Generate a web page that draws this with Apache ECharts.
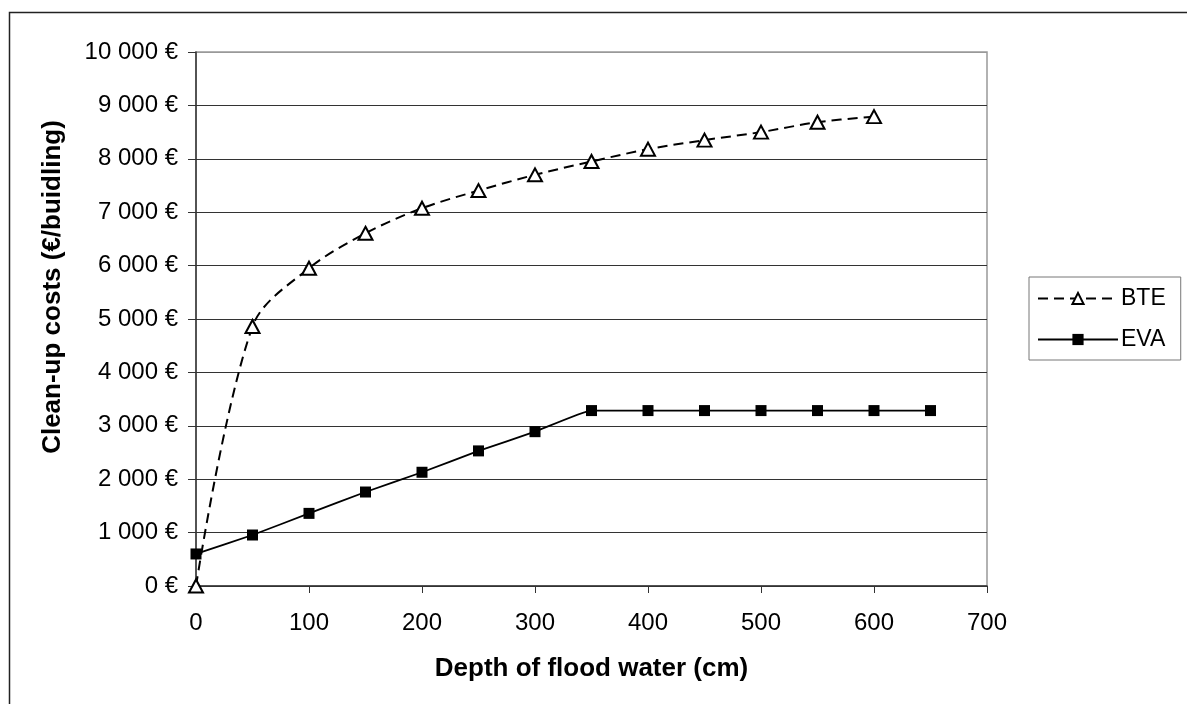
<!DOCTYPE html>
<html>
<head>
<meta charset="utf-8">
<script src="https://cdn.jsdelivr.net/npm/echarts@6/dist/echarts.min.js"></script>
<style>
html,body{margin:0;padding:0;background:#fff;}
#chart{width:1187px;height:704px;}
</style>
</head>
<body>
<div id="chart"></div>
<script>
const depthBTE = [0, 50, 100, 150, 200, 250, 300, 350, 400, 450, 500, 550, 600];
const costBTE  = [0, 4860, 5950, 6605, 7075, 7405, 7700, 7950, 8180, 8350, 8500, 8685, 8790];
const depthEVA = [0, 50, 100, 150, 200, 250, 300, 350, 400, 450, 500, 550, 600, 650];
const costEVA  = [600, 955, 1360, 1760, 2130, 2530, 2890, 3285, 3285, 3285, 3285, 3285, 3285, 3285];
const seriesNames = ['BTE', 'EVA'];
const xTitle = 'Depth of flood water (cm)';
const yTitle = 'Clean-up costs (€/buidling)';

function pairs(xs, ys) { return xs.map((x, i) => [x, ys[i]]); }
function euro(v) {
  const s = String(Math.round(v)).replace(/\B(?=(\d{3})+(?!\d))/g, ' ');
  return s + ' €';
}

const font = '"Liberation Sans", Arial, sans-serif';
const gridColors = ['#333','#333','#333','#333','#333','#333','#333','#333','#333','#333','#999'];

const chart = echarts.init(document.getElementById('chart'), null, {renderer: 'canvas'});
chart.setOption({
  animation: false,
  backgroundColor: '#fff',
  textStyle: {fontFamily: font, color: '#000'},
  grid: {left: 196, right: 200, top: 52, bottom: 118, show: true, borderColor: '#999', borderWidth: 1.5, backgroundColor: 'transparent'},
  graphic: [{
    type: 'polyline',
    shape: {points: [[9.5, 704], [9.5, 12.5], [1187, 12.5]]},
    style: {stroke: '#222', lineWidth: 1.5, fill: null},
    silent: true
  }],
  legend: {
    orient: 'vertical',
    left: 1029, top: 277,
    padding: [10, 15, 9, 8],
    borderColor: '#777', borderWidth: 1,
    itemWidth: 80, itemHeight: 14, itemGap: 18,
    textStyle: {fontFamily: font, fontSize: 23, color: '#000', padding: [0, 0, 0, -2]},
    data: seriesNames
  },
  xAxis: {
    type: 'value', min: 0, max: 700, interval: 100,
    name: xTitle, nameLocation: 'middle', nameGap: 70,
    nameTextStyle: {fontFamily: font, fontSize: 26, fontWeight: 'bold', color: '#000'},
    axisLine: {show: true, onZero: false, lineStyle: {color: '#333', width: 1.5}},
    axisTick: {show: true, length: 7, lineStyle: {color: '#333'}},
    axisLabel: {fontFamily: font, fontSize: 24, color: '#000', margin: 25},
    splitLine: {show: false}
  },
  yAxis: {
    type: 'value', min: 0, max: 10000, interval: 1000,
    name: yTitle, nameLocation: 'middle', nameGap: 130, nameRotate: 90,
    nameTextStyle: {fontFamily: font, fontSize: 26, fontWeight: 'bold', color: '#000', padding: [0, 0, 0, 64]},
    axisLine: {show: true, lineStyle: {color: '#333', width: 1.5}},
    axisTick: {show: true, length: 8, lineStyle: {color: '#333'}},
    axisLabel: {fontFamily: font, fontSize: 24, color: '#000', margin: 18, formatter: euro},
    splitLine: {show: true, lineStyle: {color: gridColors, width: 1.2}}
  },
  series: [
    {
      name: 'BTE', type: 'line', data: pairs(depthBTE, costBTE),
      smooth: 0.33,
      symbol: 'triangle', symbolSize: [14, 13],
      lineStyle: {color: '#000', width: 2, type: [10, 6]},
      itemStyle: {color: '#fff', borderColor: '#000', borderWidth: 2},
      z: 3
    },
    {
      name: 'EVA', type: 'line', data: pairs(depthEVA, costEVA),
      smooth: 0.12,
      symbol: 'rect', symbolSize: 11,
      lineStyle: {color: '#000', width: 1.8},
      itemStyle: {color: '#000', borderColor: '#000', borderWidth: 0},
      z: 4
    }
  ]
});
</script>
</body>
</html>
